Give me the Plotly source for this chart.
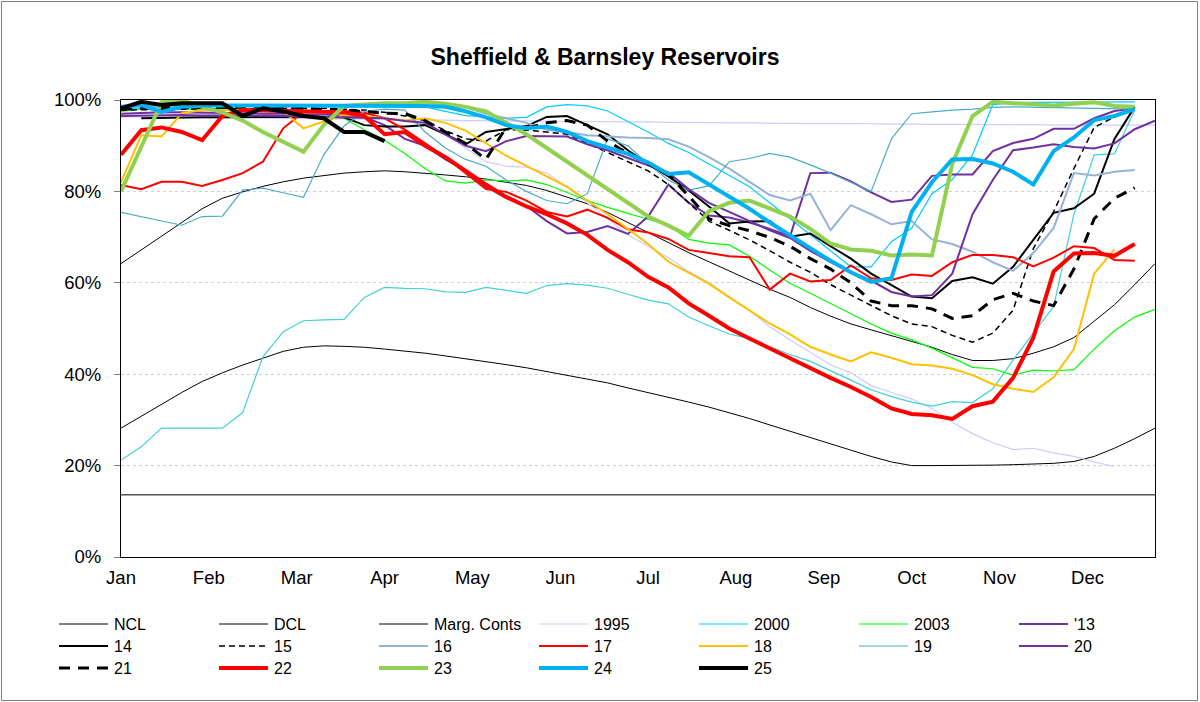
import plotly.graph_objects as go

# weekly points, Jan week 0 .. Dec week 51
weeks = list(range(52))
month_pos = [0, 4.33, 8.67, 13, 17.33, 21.67, 26, 30.33, 34.67, 39, 43.33, 47.67]
month_labels = ['Jan', 'Feb', 'Mar', 'Apr', 'May', 'Jun', 'Jul', 'Aug', 'Sep', 'Oct', 'Nov', 'Dec']

ncl = [64.2, 67.2, 70.3, 73.3, 76.2, 78.5, 79.9, 81.1, 82.1, 82.9, 83.5, 84.0, 84.3, 84.5, 84.3, 84.0,
       83.6, 83.2, 82.7, 82.0, 81.3, 80.2, 78.8, 77.3, 75.4, 73.2, 71.0, 68.8, 66.6, 64.6, 62.6, 60.6,
       58.6, 56.8, 54.6, 52.7, 51.0, 49.7, 48.4, 47.1, 45.9, 44.3, 43.0, 43.0, 43.4, 44.6, 46.0, 48.0,
       51.5, 55.2, 59.6, 64.2]
dcl = [28.2, 30.8, 33.4, 36.0, 38.4, 40.3, 42.0, 43.5, 45.0, 45.9, 46.2, 46.1, 45.9, 45.5, 45.1, 44.6,
       44.0, 43.4, 42.8, 42.1, 41.4, 40.6, 39.8, 39.0, 38.1, 37.0, 36.0, 35.0, 33.9, 32.8, 31.6, 30.3,
       28.9, 27.5, 26.1, 24.7, 23.3, 22.0, 20.8, 20.0, 20.0, 20.0, 20.0, 20.1, 20.2, 20.3, 20.5, 20.9,
       22.0, 23.8, 25.9, 28.2]
marg = [13.6] * 52

y1995 = [97.0, 97.0, 97.2, 97.2, 97.0, 96.8, 96.8, 96.7, 96.5, 96.5, 96.3, 96.3, 96.2, 96.0, 95.5, 94.5,
         92.5, 89.5, 86.5, 85.5, 85.3, 84.0, 81.0, 77.5, 74.0, 70.5, 68.0, 65.5, 62.5, 60.0, 57.0, 54.0,
         50.4, 47.5, 44.8, 42.0, 40.3, 37.5, 36.0, 34.6, 32.5, 29.5, 27.0, 25.0, 23.5, 23.8, 22.8, 22.0,
         20.8, 19.8, None, None]
flat95 = [96.3, 96.3, 96.2, 96.2, 96.1, 96.1, 96.0, 96.0, 96.0, 95.9, 95.9, 95.8, 95.8, 95.7, 95.7, 95.6,
          95.6, 95.5, 95.5, 95.5, 95.4, 95.4, 95.3, 95.3, 95.3, 95.2, 95.2, 95.1, 95.1, 95.0, 95.0, 95.0,
          94.9, 94.9, 94.9, 94.8, 94.8, 94.8, 94.7, 94.7, 94.7, 94.7, 94.6, 94.6, 94.6, 94.6, 94.5, 94.5,
          94.5, 94.5, 94.5, 94.5]
y2000 = [98.0, 98.3, 98.5, 98.5, 98.6, 98.6, 98.7, 98.7, 98.8, 98.8, 98.9, 98.9, 99.0, 99.0, 99.0, 98.5,
         97.5, 96.6, 96.3, 96.0, 96.2, 98.5, 99.0, 98.7, 97.6, 95.3, 93.0, 90.5, 88.5, 86.0, 83.5, 81.0,
         77.5, 74.1, 70.5, 67.0, 63.5, 63.5, 69.0, 72.0, 79.5, 82.6, 88.0, 99.0, 99.4, 99.5, 99.5, 99.6,
         99.6, 99.6, 99.6, None]
turq = [21.2, 24.1, 28.2, 28.2, 28.2, 28.2, 31.6, 43.8, 49.3, 51.7, 51.9, 52.0, 56.8, 59.0, 58.8, 58.7,
        58.0, 57.9, 59.0, 58.4, 57.7, 59.4, 59.8, 59.5, 58.8, 57.5, 56.2, 55.4, 52.5, 50.6, 48.8, 47.8,
        46.0, 44.3, 42.8, 40.8, 38.7, 36.6, 35.1, 33.9, 33.0, 34.0, 33.8, 36.8, 43.1, 49.0, 54.8, 75.0,
        88.0, 88.2, 97.8, None]
y2003 = [97.5, 98.0, 98.0, 98.0, 98.0, 98.0, 98.0, 98.0, 98.0, 97.8, 97.5, 96.0, 93.5, 91.2, 88.3, 85.0,
         82.3, 81.8, 82.5, 82.3, 82.5, 81.5, 79.8, 78.0, 76.5, 75.2, 74.0, 72.6, 69.5, 68.7, 68.3, 65.8,
         62.8, 59.9, 57.7, 55.5, 53.2, 51.0, 49.0, 47.5, 45.7, 43.6, 41.5, 41.2, 39.8, 40.9, 40.7, 41.0,
         45.5, 49.5, 52.5, 54.2]
y13 = [97.0, 97.2, 97.3, 97.3, 97.2, 97.2, 97.1, 97.0, 97.0, 96.8, 96.8, 96.5, 96.3, 94.5, 91.5, 90.0,
       87.0, 84.5, 81.0, 78.6, 76.8, 73.5, 70.8, 71.1, 72.4, 70.7, 74.5, 81.5, 77.5, 74.7, 74.3, 73.2,
       71.8, 70.2, 84.0, 84.1, 82.2, 79.8, 77.7, 78.2, 83.4, 83.7, 83.7, 88.8, 90.6, 91.5, 93.7, 93.7,
       96.0, 97.6, 98.2, None]
y14 = [None, 96.0, 96.1, 96.2, 96.2, 96.2, 96.3, 96.3, 96.3, 96.3, 96.3, 96.2, 94.5, 94.2, 94.2, 94.5,
       92.5, 90.3, 93.0, 93.6, 94.3, 96.3, 96.5, 94.5, 92.5, 89.0, 86.0, 83.3, 80.2, 76.7, 73.0, 73.4,
       73.5, 70.1, 70.8, 68.0, 65.3, 62.0, 59.5, 57.0, 56.6, 60.4, 61.2, 59.8, 63.5, 69.5, 75.3, 76.3,
       79.5, 91.5, 98.5, None]
y15 = [97.8, 97.8, 97.9, 98.0, 98.0, 98.0, 98.1, 98.1, 98.2, 98.2, 98.2, 98.0, 97.8, 97.3, 96.5, 95.5,
       93.3, 91.5, 91.0, 93.5, 93.4, 93.0, 92.5, 90.5, 88.5, 86.5, 84.5, 81.5, 77.5, 73.5, 71.5, 69.4,
       67.0, 64.5, 62.3, 59.6, 57.3, 55.0, 52.8, 51.0, 50.4, 48.5, 47.0, 49.0, 54.0, 67.5, 75.6, 85.0,
       94.0, 96.3, 98.2, None]
y16 = [98.6, 98.7, 98.7, 98.8, 98.8, 98.8, 98.8, 98.8, 98.9, 98.9, 98.9, 98.9, 98.9, 98.9, 98.8, 98.7,
       98.6, 98.4, 97.0, 96.0, 95.0, 93.5, 93.0, 92.3, 92.0, 91.8, 91.7, 91.4, 89.8, 87.5, 85.0, 82.1,
       79.2, 78.0, 79.5, 71.5, 77.0, 75.0, 72.8, 73.5, 69.5, 68.5, 66.8, 64.5, 62.6, 66.5, 72.0, 84.0,
       83.5, 84.3, 84.7, None]
y17 = [81.4, 80.5, 82.1, 82.1, 81.2, 82.5, 84.0, 86.5, 93.8, 97.4, 97.5, 97.6, 97.2, 96.0, 93.5, 90.5,
       87.5, 84.0, 80.5, 79.9, 78.0, 75.5, 74.5, 76.0, 74.2, 71.7, 71.0, 69.6, 67.2, 66.5, 65.8, 65.6,
       58.5, 62.0, 60.3, 60.6, 63.8, 61.0, 60.6, 61.8, 61.5, 64.5, 66.1, 66.1, 65.6, 63.6, 65.5, 68.0,
       67.6, 65.0, 64.8, None]
y18 = [82.0, 92.3, 92.0, 97.1, 97.8, 97.8, 97.8, 97.8, 97.5, 93.8, 95.3, 96.7, 96.5, 96.0, 95.5, 96.0,
       95.0, 93.3, 90.5, 87.8, 85.6, 83.3, 81.0, 78.0, 75.0, 71.8, 68.5, 64.6, 62.2, 59.8, 56.8, 54.0,
       51.1, 48.7, 46.0, 44.3, 42.8, 44.8, 43.6, 42.2, 41.9, 41.2, 39.8, 37.8, 36.8, 36.1, 39.3, 45.5,
       62.0, 67.3, None, None]
y19 = [75.4, 74.5, 73.5, 72.6, 74.5, 74.6, 80.3, 80.7, 79.7, 78.7, 88.0, 94.3, 97.5, 98.0, 97.8, 93.0,
       89.5, 87.0, 85.5, 82.5, 80.0, 78.0, 77.3, 79.5, 91.5, 90.0, 86.0, 82.5, 80.3, 81.2, 86.5, 87.2,
       88.3, 87.5, 85.8, 84.0, 82.0, 80.0, 91.5, 97.0, 97.4, 97.8, 98.0, 98.4, 98.5, 98.4, 98.3, 98.2,
       98.2, 98.0, 98.0, None]
y20 = [96.5, 96.6, 96.7, 96.7, 96.6, 96.6, 96.5, 96.5, 96.5, 96.4, 96.3, 96.3, 96.2, 96.0, 95.4, 95.0,
       92.5, 90.0, 88.8, 91.0, 92.1, 92.0, 92.0, 90.3, 89.0, 87.3, 85.7, 84.1, 80.5, 77.5, 75.5, 73.5,
       71.5, 69.8, 67.0, 64.5, 62.3, 60.5, 58.0, 57.0, 57.3, 62.0, 75.0, 82.5, 89.0, 89.6, 90.3, 89.7,
       89.4, 90.5, 93.6, 95.5]
y21 = [98.0, 98.2, 98.3, 98.3, 98.4, 98.4, 98.4, 98.4, 98.3, 98.2, 98.0, 97.8, 97.5, 97.1, 97.0, 95.5,
       93.0, 90.5, 87.0, 94.0, 93.8, 95.0, 95.5, 94.5, 91.0, 88.3, 86.0, 83.7, 79.0, 74.0, 72.5, 71.4,
       69.9, 68.0, 65.3, 63.0, 60.0, 56.0, 55.0, 55.0, 54.3, 52.2, 52.8, 56.3, 57.7, 56.0, 55.0, 63.0,
       74.0, 78.5, 80.8, None]
y22 = [88.0, 93.4, 94.0, 93.0, 91.2, 96.5, 97.8, 97.7, 97.6, 97.5, 97.4, 97.3, 96.5, 92.5, 93.0, 90.0,
       87.5, 84.5, 81.5, 78.8, 76.7, 75.0, 73.0, 70.5, 67.2, 64.5, 61.3, 59.0, 55.5, 52.8, 50.0, 47.8,
       45.6, 43.4, 41.4, 39.2, 37.2, 35.0, 32.5, 31.3, 31.0, 30.2, 33.0, 34.0, 39.2, 48.0, 62.5, 66.4,
       66.5, 65.9, 68.5, None]
y23 = [80.0, 90.0, 99.5, 100.0, 98.5, 97.3, 95.5, 93.0, 90.8, 88.7, 94.5, 98.7, 99.0, 99.3, 99.3, 99.6,
       99.2, 98.5, 97.5, 95.0, 92.5, 89.5, 86.5, 83.5, 80.5, 77.5, 74.5, 72.5, 70.3, 75.7, 77.5, 78.0,
       76.2, 74.5, 71.8, 68.6, 67.3, 67.0, 66.0, 66.2, 66.0, 86.0, 96.5, 99.6, 99.3, 99.0, 98.8, 99.2,
       99.5, 98.7, 98.5, None]
y24 = [98.5, 98.9, 97.4, 98.5, 98.8, 98.8, 98.8, 98.8, 98.8, 98.8, 98.9, 98.9, 98.9, 98.9, 98.9, 98.7,
       98.5, 97.5, 96.2, 94.5, 93.8, 94.2, 93.0, 91.0, 89.6, 88.2, 86.3, 83.8, 84.2, 81.5, 78.7, 76.2,
       73.2, 70.5, 67.6, 64.8, 62.3, 60.2, 61.0, 75.5, 82.0, 87.0, 87.1, 86.1, 84.3, 81.5, 88.8, 91.8,
       95.6, 96.5, 98.0, None]
y25 = [98.2, 99.6, 98.9, 99.3, 99.3, 99.3, 96.5, 98.2, 97.5, 96.5, 96.0, 93.0, 93.0, 91.0] + [None] * 38

# name, values, colour, width, dash, in legend
series = [
    ('NCL', ncl, 'black', 1, 'solid', True),
    ('DCL', dcl, 'black', 1, 'solid', True),
    ('Marg. Conts', marg, 'black', 1, 'solid', True),
    ('1995', y1995, '#CCCCFF', 1.2, 'solid', True),
    ('1995 flat', flat95, '#CCCCFF', 1.2, 'solid', False),
    ('2000', y2000, '#00CCFF', 1.2, 'solid', True),
    ('2000 low', turq, '#40D0D8', 1.2, 'solid', False),
    ('2003', y2003, '#00FF00', 1.2, 'solid', True),
    ("'13", y13, '#7030A0', 2, 'solid', True),
    ('14', y14, 'black', 2, 'solid', True),
    ('15', y15, 'black', 1.5, '6px,4px', True),
    ('16', y16, '#95B3D7', 2, 'solid', True),
    ('17', y17, '#FF0000', 2, 'solid', True),
    ('18', y18, '#FFC000', 2, 'solid', True),
    ('19', y19, '#4BACC6', 1.2, 'solid', True),
    ('20', y20, '#7030A0', 2, 'solid', True),
    ('21', y21, 'black', 3, '11px,8px', True),
    ('22', y22, '#FF0000', 4, 'solid', True),
    ('23', y23, '#92D050', 4, 'solid', True),
    ('24', y24, '#00B0F0', 4, 'solid', True),
    ('25', y25, 'black', 4, 'solid', True),
]

font_family = 'Liberation Sans, Arial, sans-serif'
L, R, T, B = 121, 45, 100, 145
W, H = 1200, 702
pw, ph = W - L - R, H - T - B


def px_x(x):
    return (x - L) / pw


def px_y(y):
    return (H - B - y) / ph


fig = go.Figure()
for name, vals, col, w, dash, show in series:
    fig.add_trace(go.Scatter(
        x=weeks, y=vals, name=name, mode='lines',
        line=dict(color=col, width=w, dash=dash),
        showlegend=False
    ))

# legend laid out like the spreadsheet one: 7 columns, 3 rows
legend_items = [s for s in series if s[5]]
for i, (name, vals, col, w, dash, show) in enumerate(legend_items):
    c, r = i % 7, i // 7
    lx = 59 + 160 * c
    ly = 624 + 22 * r
    fig.add_shape(type='line', xref='paper', yref='paper',
                  x0=px_x(lx), x1=px_x(lx + 49), y0=px_y(ly), y1=px_y(ly),
                  line=dict(color=col, width=w, dash=dash))
    fig.add_annotation(text=name, xref='paper', yref='paper',
                       x=px_x(lx + 53), y=px_y(ly), xanchor='left', yanchor='middle',
                       showarrow=False, font=dict(size=16))

fig.update_layout(
    width=W, height=H,
    margin=dict(l=L, r=R, t=T, b=B),
    paper_bgcolor='white', plot_bgcolor='white',
    font=dict(family=font_family, size=18.5, color='black'),
    title=dict(text='<b>Sheffield & Barnsley Reservoirs</b>', x=605 / W, y=1 - 57 / H,
               xanchor='center', yanchor='middle', font=dict(size=23)),
    xaxis=dict(range=[0, 51], tickvals=month_pos, ticktext=month_labels,
               showgrid=False, showline=True, linecolor='black', linewidth=1,
               mirror=True, ticks='', zeroline=False, ticklabelstandoff=4),
    yaxis=dict(range=[0, 100], tickvals=[0, 20, 40, 60, 80, 100],
               ticktext=['0%', '20%', '40%', '60%', '80%', '100%'],
               showgrid=True, gridcolor='#D0D0D0', griddash='dot', gridwidth=1,
               showline=True, linecolor='black', linewidth=1, mirror=True,
               ticks='outside', ticklen=6, tickcolor='#7F7F7F', zeroline=False,
               ticklabelstandoff=9),
    showlegend=False,
)

# outer chart frame
fig.add_shape(type='rect', xref='paper', yref='paper',
              x0=px_x(1.5), x1=px_x(1197.5), y0=px_y(700.5), y1=px_y(1.5),
              line=dict(color='#7F7F7F', width=1), fillcolor='rgba(0,0,0,0)', layer='below')

# page without body margin so the chart sits at the window origin
fig.write_html('out.html', config={'displayModeBar': False},
               post_script="document.body.style.margin='0px';")
